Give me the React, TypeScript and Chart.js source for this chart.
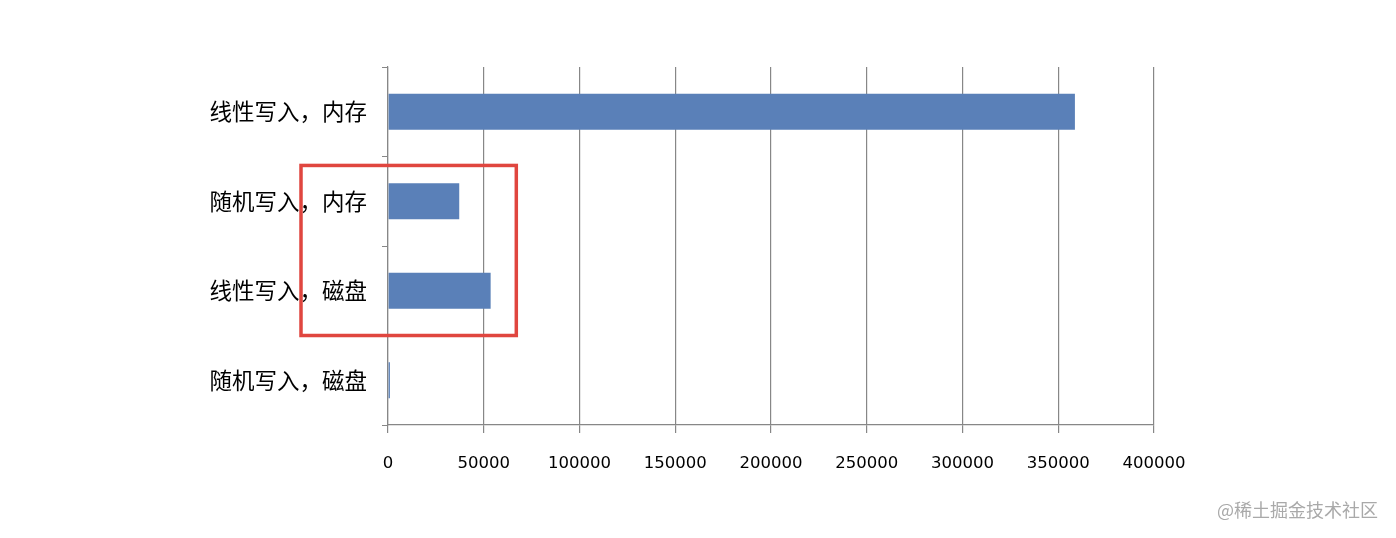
import React, { useEffect, useRef } from "react";
import { Chart, registerables } from "chart.js";

Chart.register(...registerables);

const categories = ["线性写入，内存", "随机写入，内存", "线性写入，磁盘", "随机写入，磁盘"];
const values = [358700, 37200, 53600, 1000];
const xTicks = [0, 50000, 100000, 150000, 200000, 250000, 300000, 350000, 400000];
const watermark = "@稀土掘金技术社区";

const boxPlugin = {
  id: "redBox",
  afterDatasetsDraw(chart: any) {
    const { ctx, scales, chartArea } = chart;
    const xs = scales.x;
    const ys = scales.y;
    const left = chartArea.left - 87;
    const right = xs.getPixelForValue(67000);
    const top = ys.getPixelForValue(0.6);
    const bottom = ys.getPixelForValue(2.5);
    ctx.save();
    ctx.strokeStyle = "#e0463f";
    ctx.lineWidth = 3.5;
    ctx.strokeRect(left, top, right - left, bottom - top);
    ctx.restore();
  },
};

export default function App() {
  const ref = useRef<HTMLCanvasElement>(null);
  useEffect(() => {
    document.body.style.margin = "0";
    const chart = new Chart(ref.current!, {
      type: "bar",
      data: {
        labels: categories,
        datasets: [
          {
            data: values,
            backgroundColor: "#5a80b8",
            borderWidth: 0,
            categoryPercentage: 1,
            barPercentage: 0.4,
          },
        ],
      },
      options: {
        indexAxis: "y",
        animation: false,
        responsive: false,
        maintainAspectRatio: false,
        layout: { padding: { left: 0, right: 242, top: 67, bottom: 40 } },
        plugins: { legend: { display: false }, tooltip: { enabled: false } },
        scales: {
          x: {
            min: 0,
            max: 400000,
            afterBuildTicks(axis: any) {
              axis.ticks = xTicks.map((v) => ({ value: v }));
            },
            afterFit(axis: any) {
              axis.height = 73;
            },
            grid: {
              color: "#878787",
              lineWidth: 1.2,
              tickLength: 8,
              drawOnChartArea: true,
            },
            border: { color: "#878787", width: 1.2 },
            ticks: {
              color: "#000",
              font: { family: "DejaVu Sans", size: 16.5 },
              padding: 21,
              maxRotation: 0,
              autoSkip: false,
              callback: (v: any) => String(v),
            },
          },
          y: {
            afterFit(axis: any) {
              axis.width = 388;
            },
            grid: {
              offset: true,
              drawOnChartArea: false,
              color: "#878787",
              tickLength: 6,
            },
            border: { color: "#878787", width: 1.2 },
            ticks: {
              color: "#000",
              font: { family: "Noto Sans CJK SC", size: 22.5 },
              padding: 15,
            },
          },
        },
      },
      plugins: [boxPlugin],
    });
    return () => chart.destroy();
  }, []);
  return (
    <div style={{ position: "relative", width: 1396, height: 538, background: "#fff" }}>
      <canvas ref={ref} width={1396} height={538} style={{ display: "block" }} />
      <div
        style={{
          position: "absolute",
          right: 18,
          top: 496,
          fontFamily: "Noto Sans CJK SC",
          fontSize: 18,
          color: "#a9a9a9",
          whiteSpace: "nowrap",
        }}
      >
        {watermark}
      </div>
    </div>
  );
}
